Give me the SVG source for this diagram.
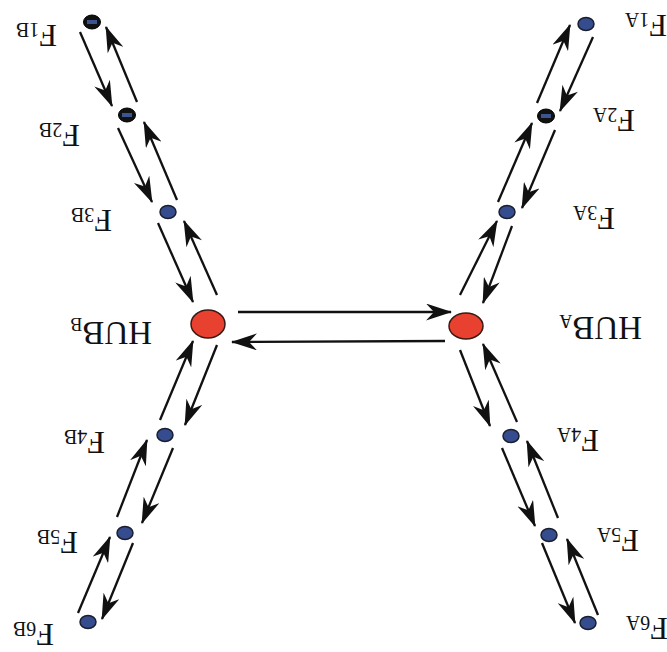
<svg xmlns="http://www.w3.org/2000/svg" width="667" height="652" viewBox="0 0 667 652">
<style>
.bg{fill:#ffffff}
.n{fill:#354d8e;stroke:#1b1e2e;stroke-width:1.5}
.nk{fill:#111111;stroke:#000;stroke-width:1}
.nkc{fill:#3a5590}
.hub{fill:#e8412f;stroke:#3a1a14;stroke-width:1.5}
.c line{stroke:#111;stroke-width:2.3;marker-end:url(#ah)}
.lbl{font-family:"Liberation Serif","Times New Roman",serif;font-size:32px;fill:#111}
.sub{font-size:20px}
</style>
<defs>
<marker id="ah" viewBox="0 0 26 17" refX="25" refY="8.5" markerWidth="26" markerHeight="17" markerUnits="userSpaceOnUse" orient="auto">
<path d="M0,0 L26,8.5 L0,17 L8,8.5 Z" fill="#111"/>
</marker>
</defs>
<rect class="bg" width="667" height="652"/>
<g id="connectors" class="c">
<line x1="80" y1="32" x2="112" y2="106"/>
<line x1="137" y1="102" x2="106" y2="27"/>
<line x1="118" y1="128" x2="152" y2="202"/>
<line x1="177" y1="200" x2="144" y2="122"/>
<line x1="158" y1="223" x2="193" y2="302"/>
<line x1="217" y1="295" x2="184" y2="221"/>
<line x1="217" y1="345" x2="185" y2="425"/>
<line x1="160" y1="420" x2="193" y2="341"/>
<line x1="173" y1="448" x2="142" y2="523"/>
<line x1="117" y1="517" x2="147" y2="440"/>
<line x1="133" y1="543" x2="102" y2="619"/>
<line x1="78" y1="613" x2="110" y2="537"/>
<line x1="593" y1="37" x2="560" y2="111"/>
<line x1="537" y1="103" x2="570" y2="25"/>
<line x1="555" y1="130" x2="522" y2="208"/>
<line x1="498" y1="202" x2="532" y2="123"/>
<line x1="512" y1="226" x2="483" y2="303"/>
<line x1="460" y1="295" x2="497" y2="221"/>
<line x1="460" y1="350" x2="490" y2="426"/>
<line x1="517" y1="422" x2="483" y2="344"/>
<line x1="502" y1="448" x2="535" y2="526"/>
<line x1="558" y1="518" x2="527" y2="441"/>
<line x1="542" y1="543" x2="575" y2="623"/>
<line x1="598" y1="615" x2="567" y2="539"/>
<line x1="238" y1="312" x2="451" y2="312"/>
<line x1="445" y1="341" x2="232" y2="342"/>
</g>
<g id="F1B"><ellipse class="nk" cx="92" cy="22" rx="8.5" ry="7"/><rect class="nkc" x="87" y="20" width="10" height="4"/>
<text class="lbl" transform="rotate(180 57 25)" x="57" y="25">F<tspan class="sub" dy="2">1B</tspan></text></g>
<g id="F2B"><ellipse class="nk" cx="127" cy="115" rx="8.5" ry="7"/><rect class="nkc" x="122" y="113" width="10" height="4"/>
<text class="lbl" transform="rotate(180 80 125)" x="80" y="125">F<tspan class="sub" dy="2">2B</tspan></text></g>
<g id="F3B"><ellipse class="n" cx="168" cy="212" rx="8" ry="6.5"/>
<text class="lbl" transform="rotate(180 112 210)" x="112" y="210">F<tspan class="sub" dy="2">3B</tspan></text></g>
<g id="HUBB"><ellipse class="hub" cx="208" cy="324" rx="17" ry="14"/>
<text class="lbl" style="font-size:33px" transform="rotate(180 152 322)" x="152" y="322">HUB<tspan class="sub" style="font-size:18px" dy="4">B</tspan></text></g>
<g id="F4B"><ellipse class="n" cx="165" cy="435" rx="8" ry="6.5"/>
<text class="lbl" transform="rotate(180 105 432)" x="105" y="432">F<tspan class="sub" dy="2">4B</tspan></text></g>
<g id="F5B"><ellipse class="n" cx="125" cy="533" rx="8" ry="6.5"/>
<text class="lbl" transform="rotate(180 78 532)" x="78" y="532">F<tspan class="sub" dy="2">5B</tspan></text></g>
<g id="F6B"><ellipse class="n" cx="88" cy="622" rx="8" ry="6.5"/>
<text class="lbl" transform="rotate(180 54 624)" x="54" y="624">F<tspan class="sub" dy="2">6B</tspan></text></g>
<g id="F1A"><ellipse class="n" cx="586" cy="24" rx="8" ry="6.5"/>
<text class="lbl" transform="rotate(180 667 15)" x="667" y="15">F<tspan class="sub" dy="2">1A</tspan></text></g>
<g id="F2A"><ellipse class="nk" cx="546" cy="116" rx="8.5" ry="7"/><rect class="nkc" x="541" y="114" width="10" height="4"/>
<text class="lbl" transform="rotate(180 635 110)" x="635" y="110">F<tspan class="sub" dy="2">2A</tspan></text></g>
<g id="F3A"><ellipse class="n" cx="507" cy="212" rx="8" ry="6.5"/>
<text class="lbl" transform="rotate(180 615 208)" x="615" y="208">F<tspan class="sub" dy="2">3A</tspan></text></g>
<g id="HUBA"><ellipse class="hub" cx="466" cy="326" rx="17" ry="13"/>
<text class="lbl" style="font-size:33px" transform="rotate(180 642 317)" x="642" y="317">HUB<tspan class="sub" style="font-size:18px" dy="2">A</tspan></text></g>
<g id="F4A"><ellipse class="n" cx="511" cy="436" rx="8" ry="6.5"/>
<text class="lbl" transform="rotate(180 599 430)" x="599" y="430">F<tspan class="sub" dy="2">4A</tspan></text></g>
<g id="F5A"><ellipse class="n" cx="549" cy="535" rx="8" ry="6.5"/>
<text class="lbl" transform="rotate(180 639 530)" x="639" y="530">F<tspan class="sub" dy="2">5A</tspan></text></g>
<g id="F6A"><ellipse class="n" cx="588" cy="623" rx="8" ry="6.5"/>
<text class="lbl" transform="rotate(180 668 618)" x="668" y="618">F<tspan class="sub" dy="2">6A</tspan></text></g>
</svg>
